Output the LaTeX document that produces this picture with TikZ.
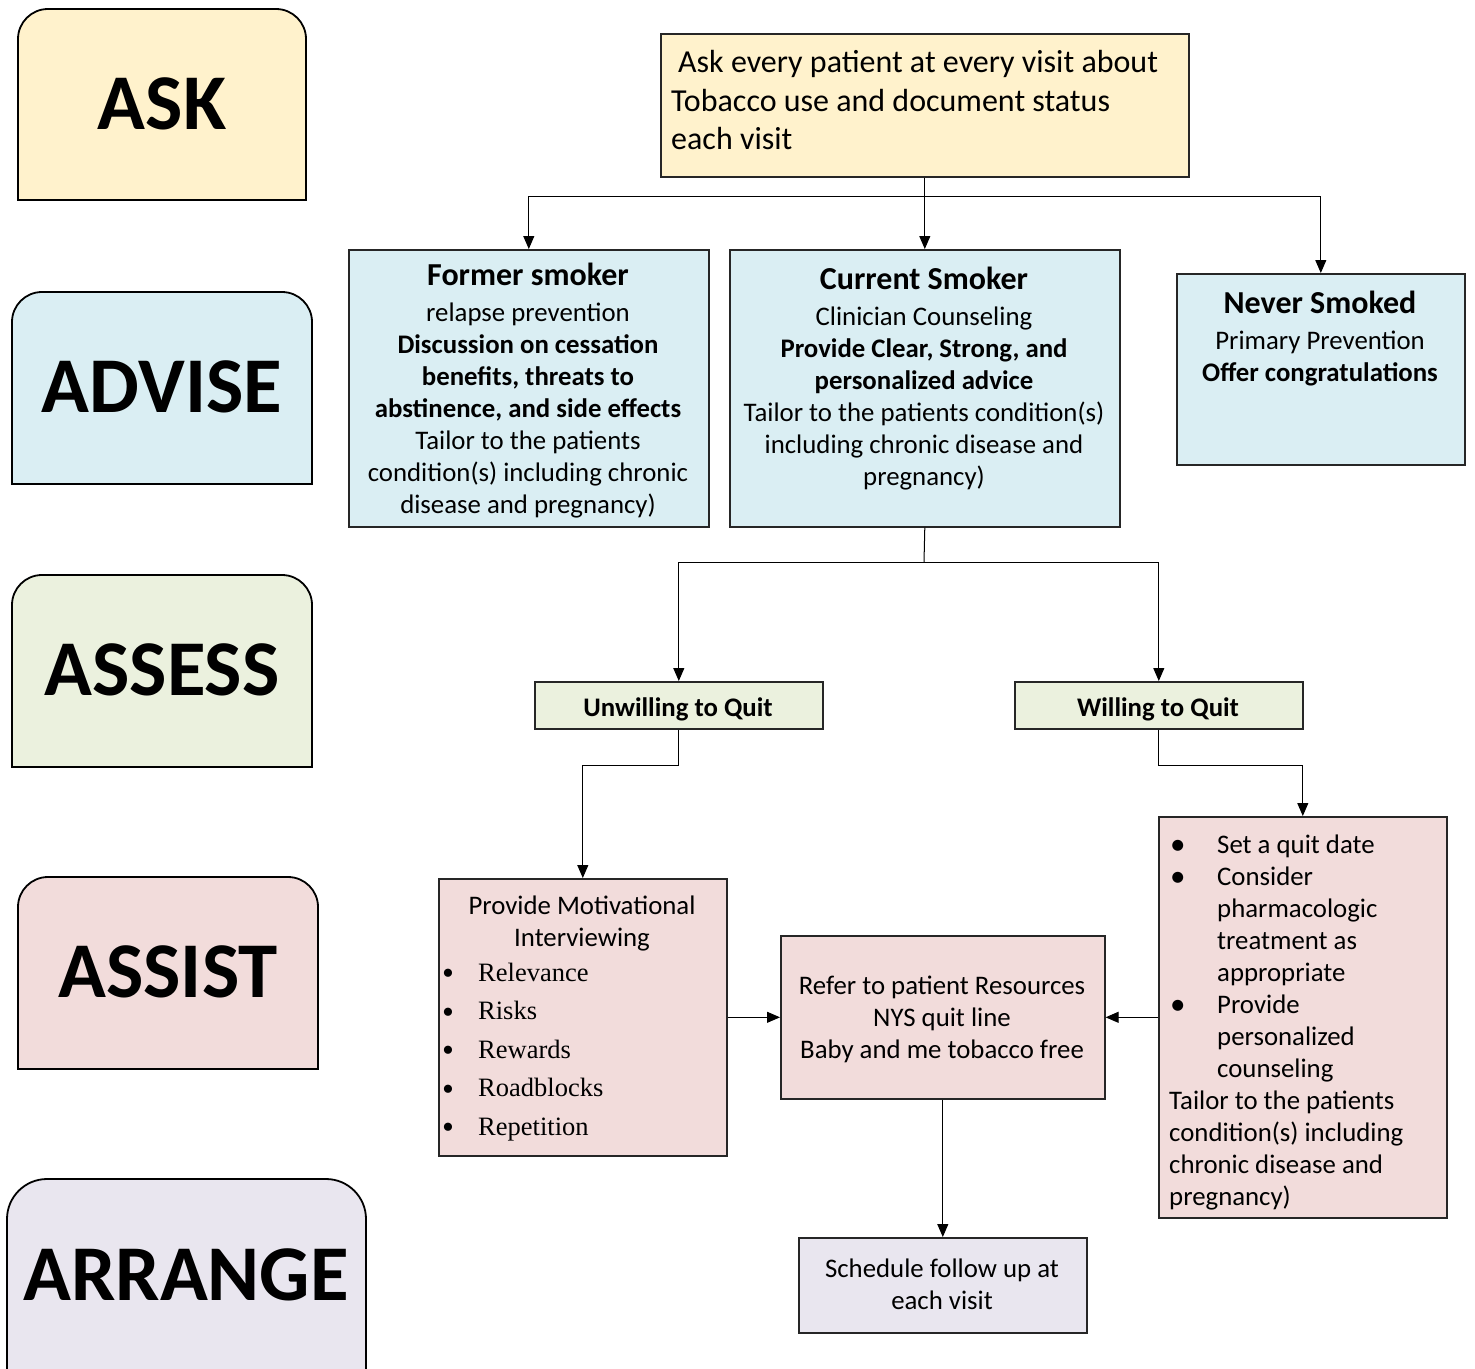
\documentclass[tikz,border=0pt]{standalone}
\usepackage{fontspec}
\setmainfont{Carlito}
\newfontfamily\timesf{Liberation Serif}
\usetikzlibrary{arrows.meta}
\definecolor{askc}{HTML}{FFF2CC}
\definecolor{advc}{HTML}{DAEEF3}
\definecolor{assc}{HTML}{EBF1DE}
\definecolor{asic}{HTML}{F2DCDB}
\definecolor{arrc}{HTML}{E9E6EF}
\tikzset{
 lane/.style={draw=black, line width=1.8pt},
 lanelabel/.style={font=\fontsize{79}{90}\selectfont\bfseries, inner sep=0},
 flowbox/.style={draw=black!85, line width=1.6pt, rectangle, inner sep=0pt, anchor=north west},
 txt/.style={inner sep=0pt, align=center, font=\fontsize{26.8}{32}\selectfont},
 conn/.style={line width=1pt, -{Triangle[length=13pt,width=11pt]}},
 plain/.style={line width=1pt},
}
\newcommand\lanebox[6]{%
 \draw[lane,fill=#6] (#1,#4) -- (#1,{#2+#5})
  .. controls (#1,{#2+0.448*#5}) and ({#1+0.448*#5},#2) .. ({#1+#5},#2)
  -- ({#3-#5},#2)
  .. controls ({#3-0.448*#5},#2) and (#3,{#2+0.448*#5}) .. (#3,{#2+#5})
  -- (#3,#4) -- cycle;}
\newcommand\tbul{\makebox[36pt][l]{\raisebox{-3.5pt}{\fontsize{34}{34}\selectfont•}}}
\newcommand\cbul{\makebox[48pt][l]{\hspace*{1pt}\raisebox{-1pt}{\fontsize{31}{31}\selectfont•}}}
\begin{document}
\begin{tikzpicture}[x=1pt,y=-1pt]
\useasboundingbox (0,0) rectangle (1475,1368);
\clip (0,0) rectangle (1475,1368);
\fill[white] (0,0) rectangle (1475,1368);

% lanes
\lanebox{18}{9}{306}{200}{30}{askc}
\lanebox{12}{292}{312}{484}{30}{advc}
\lanebox{12}{575}{312}{767}{30}{assc}
\lanebox{18}{877}{318}{1069}{30}{asic}
\lanebox{7}{1179}{366}{1400}{40}{arrc}
\node[lanelabel] (lask) at (162,104) {ASK};
\node[lanelabel] (ladvise) at (162,387) {ADVISE};
\node[lanelabel] (lassess) at (162,670) {ASSESS};
\node[lanelabel] (lassist) at (168,972) {ASSIST};
\node[lanelabel] (larrange) at (186,1275) {ARRANGE};

% boxes
\node[flowbox, fill=askc, minimum width=528pt, minimum height=143pt] (ask) at (660,33) {};
\node[flowbox, fill=advc, minimum width=360pt, minimum height=277pt] (former) at (348,249) {};
\node[flowbox, fill=advc, minimum width=390pt, minimum height=277pt] (current) at (729,249) {};
\node[flowbox, fill=advc, minimum width=288pt, minimum height=191pt] (never) at (1176,273) {};
\node[flowbox, fill=assc, minimum width=288pt, minimum height=47pt] (unwilling) at (534,681) {};
\node[flowbox, fill=assc, minimum width=288pt, minimum height=47pt] (willing) at (1014,681) {};
\node[flowbox, fill=asic, minimum width=288pt, minimum height=277pt] (motiv) at (438,878) {};
\node[flowbox, fill=asic, minimum width=324pt, minimum height=163pt] (refer) at (780,935) {};
\node[flowbox, fill=asic, minimum width=288pt, minimum height=401pt] (list) at (1158,816) {};
\node[flowbox, fill=arrc, minimum width=288pt, minimum height=95pt] (schedule) at (798,1237) {};

% texts
\node[txt, anchor=west, align=left, font=\fontsize{32}{38.5}\selectfont] (asktxt) at (671,100.5)
 {\hspace*{7pt}Ask every patient at every visit about\\Tobacco use and document status\\each visit};
\node[txt] (formertxt) at (528,391)
 {{\fontsize{32}{32}\selectfont\bfseries Former smoker}\\[4pt]
  relapse prevention\\
  \textbf{Discussion on cessation}\\
  \textbf{benefits, threats to}\\
  \textbf{abstinence, and side effects}\\
  Tailor to the patients\\
  condition(s) including chronic\\
  disease and pregnancy)};
\node[txt] (currenttxt) at (924,378.5)
 {{\fontsize{32}{32}\selectfont\bfseries Current Smoker}\\[4pt]
  Clinician Counseling\\
  \textbf{Provide Clear, Strong, and}\\
  \textbf{personalized advice}\\
  Tailor to the patients condition(s)\\
  including chronic disease and\\
  pregnancy)};
\node[txt] (nevertxt) at (1320,338.5)
 {{\fontsize{32}{32}\selectfont\bfseries Never Smoked}\\[4pt]
  Primary Prevention\\
  \textbf{Offer congratulations}};
\node[txt, font=\fontsize{26.8}{32}\selectfont\bfseries] (unwillingtxt) at (678,709) {Unwilling to Quit};
\node[txt, font=\fontsize{26.8}{32}\selectfont\bfseries] (willingtxt) at (1158,709) {Willing to Quit};
\node[txt] (motivtitle) at (582,923) {Provide Motivational\\Interviewing};
\node[txt, anchor=west, align=left, font=\timesf\fontsize{26.5}{38.5}\selectfont] (motivlist) at (442,1052)
 {\tbul Relevance\\
  \tbul Risks\\
  \tbul Rewards\\
  \tbul Roadblocks\\
  \tbul Repetition};
\node[txt] (refertxt) at (942,1019) {Refer to patient Resources\\NYS quit line\\Baby and me tobacco free};
\node[txt, anchor=west, align=left] (listtxt) at (1169,1022.5)
 {\cbul Set a quit date\\
  \cbul Consider\\
  \hspace*{48pt}pharmacologic\\
  \hspace*{48pt}treatment as\\
  \hspace*{48pt}appropriate\\
  \cbul Provide\\
  \hspace*{48pt}personalized\\
  \hspace*{48pt}counseling\\
  Tailor to the patients\\
  condition(s) including\\
  chronic disease and\\
  pregnancy)};
\node[txt] (scheduletxt) at (942,1284) {Schedule follow up at\\each visit};

% connectors
\coordinate (j1) at (924,196);
\coordinate (j2) at (924,562);
\draw[conn] (ask.south) -- (current.north);
\draw[conn] (j1) -| (former.north);
\draw[conn] (j1) -| (never.north);
\draw[plain] (current.south) -- (j2);
\draw[conn] (j2) -| (unwilling.north);
\draw[conn] (j2) -| (willing.north);
\draw[conn] (unwilling.south) -- ++(0,36) -| (motiv.north);
\draw[conn] (willing.south) -- ++(0,36) -| (list.north);
\draw[conn] (motiv.east) -- (refer.west);
\draw[conn] (list.west) -- (refer.east);
\draw[conn] (refer.south) -- (schedule.north);
\end{tikzpicture}
\end{document}
